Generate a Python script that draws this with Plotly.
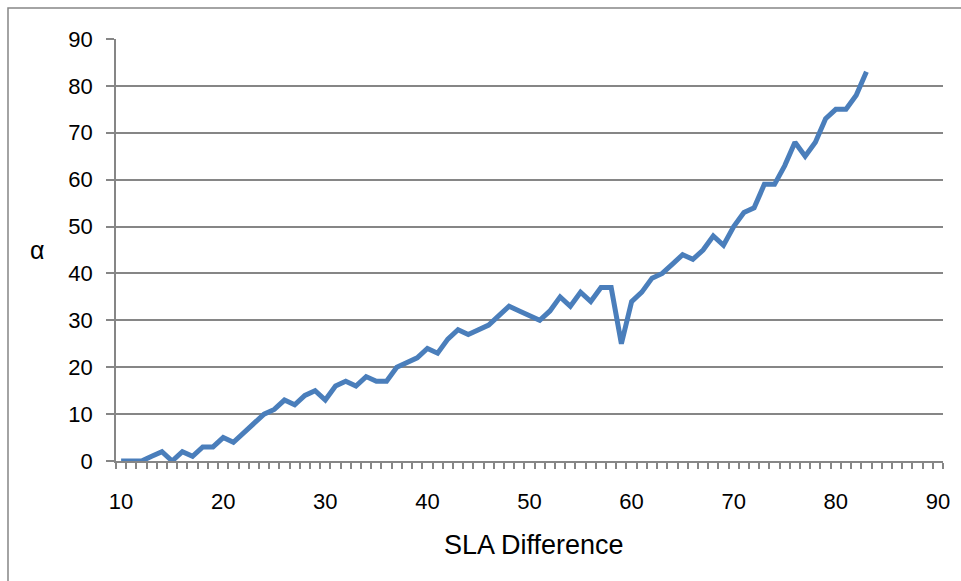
import plotly.graph_objects as go

sla_difference = list(range(10, 84))
alpha = [0, 0, 0, 1, 2, 0, 2, 1, 3, 3,
         5, 4, 6, 8, 10, 11, 13, 12, 14, 15,
         13, 16, 17, 16, 18, 17, 17, 20, 21, 22,
         24, 23, 26, 28, 27, 28, 29, 31, 33, 32,
         31, 30, 32, 35, 33, 36, 34, 37, 37, 25,
         34, 36, 39, 40, 42, 44, 43, 45, 48, 46,
         50, 53, 54, 59, 59, 63, 68, 65, 68, 73,
         75, 75, 78, 83]
x_tick_labels = [10, 20, 30, 40, 50, 60, 70, 80, 90]
y_tick_labels = [0, 10, 20, 30, 40, 50, 60, 70, 80, 90]

GREY = "#868686"
FONT = "Liberation Sans"

fig = go.Figure()
fig.add_trace(go.Scatter(
    x=sla_difference, y=alpha, mode="lines",
    line=dict(color="#4A7EBB", width=5),
    hoverinfo="skip", showlegend=False,
))

fig.update_layout(
    width=961, height=581,
    margin=dict(l=116, r=18, t=39, b=120, pad=0),
    paper_bgcolor="white", plot_bgcolor="white",
    font=dict(family=FONT, color="black", size=22),
    xaxis=dict(
        range=[9.5, 90.5], tickmode="array", tickvals=x_tick_labels,
        ticktext=[str(v) for v in x_tick_labels],
        ticks="", showgrid=False, zeroline=False,
        showline=True, linecolor=GREY, linewidth=1.5,
        ticklabelstandoff=20,
        tickfont=dict(family=FONT, size=22, color="black"),
        minor=dict(tick0=9.5, dtick=1, ticks="outside", ticklen=6,
                   tickcolor=GREY, tickwidth=1.5, showgrid=False),
    ),
    yaxis=dict(
        range=[0, 90], tickmode="array", tickvals=y_tick_labels,
        ticks="outside", ticklen=8, tickcolor=GREY, tickwidth=1.5,
        showgrid=True, gridcolor=GREY, gridwidth=1.5, zeroline=False,
        showline=True, linecolor=GREY, linewidth=1.5,
        ticklabelstandoff=9,
        tickfont=dict(family=FONT, size=22, color="black"),
    ),
    shapes=[dict(type="rect", xref="paper", yref="paper",
                 x0=-0.1306, x1=1.0266, y0=-0.3057, y1=1.0735,
                 line=dict(color=GREY, width=1.5), layer="below")],
    annotations=[
        dict(text="SLA Difference", xref="paper", yref="paper",
             x=0.506, y=-0.2, xanchor="center", yanchor="middle",
             showarrow=False, font=dict(family=FONT, size=27, color="black")),
        dict(text="α", xref="paper", yref="paper",
             x=-0.0955, y=0.499, xanchor="center", yanchor="middle",
             showarrow=False, font=dict(family=FONT, size=25, color="black")),
    ],
)

fig.write_html("out.html",
               config={"displayModeBar": False},
               post_script="document.body.style.margin='0px';document.body.style.overflow='hidden';")
